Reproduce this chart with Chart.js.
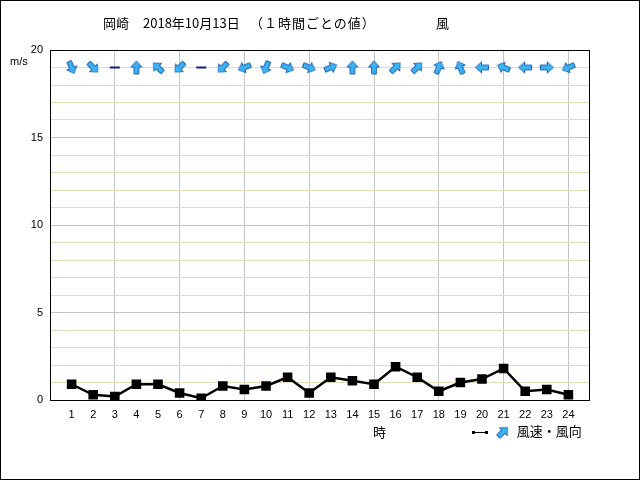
<!DOCTYPE html>
<html>
<head>
<meta charset="utf-8">
<script src="https://cdn.jsdelivr.net/npm/chart.js@4"></script>
<style>
  body { margin: 0; background: #fff; }
  #wrap { position: relative; width: 640px; height: 480px; }
  #frame { position: absolute; left: 0; top: 0; width: 640px; height: 480px; box-sizing: border-box; border: 1px solid #000; pointer-events: none; }
  .txt { position: absolute; font-family: "Noto Sans CJK JP", sans-serif; color: #000; white-space: pre; line-height: 1; }
  #title { left: 0; top: 16px; font-size: 13px; }
  #title span { position: absolute; top: 0; }
  #unit { left: 10px; top: 56px; font-family: "Liberation Sans", sans-serif; font-size: 11px; }
  #xname { left: 373px; top: 425px; font-size: 13px; }
  #legend { left: 471px; top: 424px; font-size: 13px; }
  #legend canvas { vertical-align: middle; }
</style>
</head>
<body>
<div id="wrap">
  <canvas id="chart" width="640" height="480"></canvas>
  <div class="txt" id="title"><span style="left:103px">岡崎</span><span style="left:143px">2018年10月13日</span><span style="left:250px;letter-spacing:1px">（１時間ごとの値）</span><span style="left:436px">風</span></div>
  <div class="txt" id="unit">m/s</div>
  <div class="txt" id="xname">時</div>
  <div class="txt" id="legend"><canvas id="legLine" width="18" height="10"></canvas>  <canvas id="legArrow" width="16" height="16"></canvas>  風速・風向</div>
  <div id="frame"></div>
</div>
<script>
// DATA
const hours = [1, 2, 3, 4, 5, 6, 7, 8, 9, 10, 11, 12, 13, 14, 15, 16, 17, 18, 19, 20, 21, 22, 23, 24];
const windSpeed = [0.9, 0.3, 0.2, 0.9, 0.9, 0.4, 0.1, 0.8, 0.6, 0.8, 1.3, 0.4, 1.3, 1.1, 0.9, 1.9, 1.3, 0.5, 1.0, 1.2, 1.8, 0.5, 0.6, 0.3];
// direction the wind blows from
const windDir = ['北北西', '北西', '静穏', '南', '南東', '北東', '静穏', '北東', '東北東', '北北東', '西北西', '西北西',
                 '西南西', '南', '南', '南西', '南西', '南南西', '南南東', '東', '東南東', '東', '西', '東北東'];
const yTicks = [0, 5, 10, 15, 20];
const arrowRow = 19;

const compass = ['北', '北北東', '北東', '東北東', '東', '東南東', '南東', '南南東',
                 '南', '南南西', '南西', '西南西', '西', '西北西', '北西', '北北西'];

// arrow pointing up, rotated later
function makeArrow() {
    let cv = document.createElement('canvas');
    cv.width = 16; cv.height = 16;
    let c = cv.getContext('2d');
    c.beginPath();
    c.moveTo(8, 1.5);
    c.lineTo(13.5, 7.5);
    c.lineTo(10.3, 7.5);
    c.lineTo(10.3, 14.5);
    c.lineTo(5.7, 14.5);
    c.lineTo(5.7, 7.5);
    c.lineTo(2.5, 7.5);
    c.closePath();
    c.fillStyle = '#3db4f2';
    c.fill();
    c.strokeStyle = '#1b5cb5';
    c.lineWidth = 1;
    c.stroke();
    return cv;
}
function makeCalm() {
    let cv = document.createElement('canvas');
    cv.width = 12; cv.height = 4;
    let c = cv.getContext('2d');
    c.fillStyle = '#101c80';
    c.fillRect(1, 1, 10, 2);
    return cv;
}
const arrowImg = makeArrow();
const calmImg = makeCalm();

// legend icons
(function () {
    let c = document.getElementById('legLine').getContext('2d');
    c.strokeStyle = '#000'; c.lineWidth = 1;
    c.beginPath(); c.moveTo(2, 5.5); c.lineTo(16, 5.5); c.stroke();
    c.fillStyle = '#000';
    c.fillRect(1, 4, 3, 3); c.fillRect(14, 4, 3, 3);
    let ac = document.getElementById('legArrow').getContext('2d');
    ac.translate(8, 8); ac.rotate(Math.PI / 4); ac.drawImage(makeArrow(), -8, -8);
})();

function arrowAngle(i) {
    let k = compass.indexOf(windDir[i]);
    return ((k * 22.5) + 180) % 360;
}

const framePlugin = {
    id: 'frame',
    beforeDatasetsDraw(chart) {
        const { ctx, chartArea: a } = chart;
        ctx.save();
        ctx.strokeStyle = '#000';
        ctx.lineWidth = 1;
        ctx.strokeRect(a.left + 0.5, a.top + 0.5, a.right - a.left - 1, a.bottom - a.top);
        ctx.restore();
    }
};

const tickFont = { family: 'Liberation Sans', size: 11 };

new Chart(document.getElementById('chart'), {
    type: 'line',
    data: {
        datasets: [{
            label: '風速',
            data: hours.map((h, i) => ({ x: h, y: windSpeed[i] })),
            borderColor: '#000',
            backgroundColor: '#000',
            borderWidth: 2.5,
            pointStyle: 'rect',
            pointRadius: 5,
            tension: 0
        }, {
            label: '風向',
            data: hours.map(h => ({ x: h, y: arrowRow })),
            showLine: false,
            pointStyle: ctx => windDir[ctx.dataIndex] === '静穏' ? calmImg : arrowImg,
            pointRotation: ctx => windDir[ctx.dataIndex] === '静穏' ? 0 : arrowAngle(ctx.dataIndex),
            pointRadius: 8
        }]
    },
    options: {
        responsive: false,
        animation: false,
        layout: { padding: { left: 0, top: 50, right: 50, bottom: 0 } },
        plugins: { legend: { display: false }, tooltip: { enabled: false }, title: { display: false } },
        scales: {
            x: {
                type: 'linear',
                min: 0, max: 25,
                afterFit: s => { s.height = 80; },
                ticks: {
                    stepSize: 1,
                    autoSkip: false,
                    color: '#000',
                    font: tickFont,
                    padding: 8,
                    maxRotation: 0,
                    callback: v => (v >= 1 && v <= 24) ? String(v) : ''
                },
                grid: {
                    drawTicks: false,
                    color: c => (c.tick && c.tick.value % 3 === 0 && c.tick.value > 0 && c.tick.value < 25) ? '#c4c4c4' : 'rgba(0,0,0,0)'
                },
                border: { display: false }
            },
            y: {
                min: 0, max: 20,
                afterFit: s => { s.width = 50; },
                ticks: {
                    stepSize: 1,
                    autoSkip: false,
                    color: '#000',
                    font: tickFont,
                    padding: 7,
                    callback: v => yTicks.includes(v) ? String(v) : ''
                },
                grid: {
                    drawTicks: false,
                    color: c => (c.tick && c.tick.value % 5 === 0) ? '#c4c4c4' : '#e4dbb9'
                },
                border: { display: false }
            }
        }
    },
    plugins: [framePlugin]
});
</script>
</body>
</html>
